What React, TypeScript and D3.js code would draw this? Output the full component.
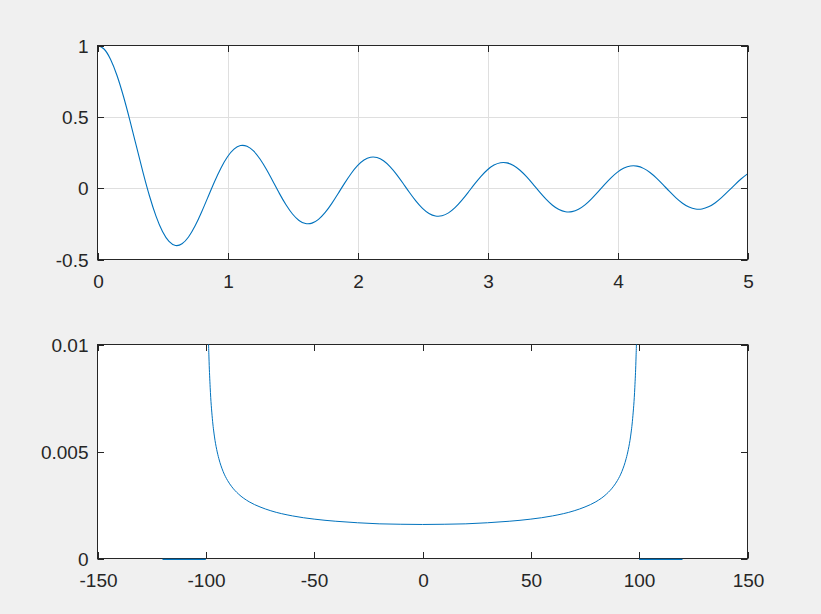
import React from "react";
import * as d3 from "d3";

// ---------- Data ----------
// Top panel: time signal, sampled every 0.05
const timeT = [
  0, 0.05, 0.1, 0.15, 0.2, 0.25, 0.3, 0.35, 0.4, 0.45,
  0.5, 0.55, 0.6, 0.65, 0.7, 0.75, 0.8, 0.85, 0.9, 0.95,
  1.0, 1.05, 1.1, 1.15, 1.2, 1.25, 1.3, 1.35, 1.4, 1.45,
  1.5, 1.55, 1.6, 1.65, 1.7, 1.75, 1.8, 1.85, 1.9, 1.95,
  2.0, 2.05, 2.1, 2.15, 2.2, 2.25, 2.3, 2.35, 2.4, 2.45,
  2.5, 2.55, 2.6, 2.65, 2.7, 2.75, 2.8, 2.85, 2.9, 2.95,
  3.0, 3.05, 3.1, 3.15, 3.2, 3.25, 3.3, 3.35, 3.4, 3.45,
  3.5, 3.55, 3.6, 3.65, 3.7, 3.75, 3.8, 3.85, 3.9, 3.95,
  4.0, 4.05, 4.1, 4.15, 4.2, 4.25, 4.3, 4.35, 4.4, 4.45,
  4.5, 4.55, 4.6, 4.65, 4.7, 4.75, 4.8, 4.85, 4.9, 4.95,
  5.0,
];
const timeY = [
  1.0, 0.9755, 0.9037, 0.79, 0.6425, 0.4722, 0.2906, 0.1109, -0.055, -0.1961,
  -0.3042, -0.3735, -0.4018, -0.3901, -0.3425, -0.2658, -0.1688, -0.0617, 0.0452, 0.142,
  0.2203, 0.2737, 0.2985, 0.2936, 0.2608, 0.2043, 0.1304, 0.0468, -0.0383, -0.1167,
  -0.1812, -0.2262, -0.2479, -0.2451, -0.2187, -0.172, -0.11, -0.0391, 0.0337, 0.1014,
  0.1575, 0.197, 0.2165, 0.2146, 0.192, 0.1513, 0.0969, 0.0342, -0.0305, -0.0908,
  -0.1412, -0.1769, -0.1947, -0.1933, -0.1732, -0.1367, -0.0875, -0.0308, 0.028, 0.083,
  0.1291, 0.1618, 0.1783, 0.1773, 0.159, 0.1256, 0.0805, 0.0282, -0.026, -0.0769,
  -0.1196, -0.1501, -0.1655, -0.1647, -0.1478, -0.1168, -0.0749, -0.0262, 0.0244, 0.072,
  0.112, 0.1406, 0.1551, 0.1544, 0.1387, 0.1097, 0.0703, 0.0246, -0.0231, -0.0679,
  -0.1056, -0.1327, -0.1465, -0.1459, -0.1311, -0.1037, -0.0665, -0.0232, 0.0219, 0.0644,
  0.1003,
];
const topXTicks = [0, 1, 2, 3, 4, 5];
const topYTicks = [-0.5, 0, 0.5, 1];

// Bottom panel: spectrum
const specF = [
  -99.8, -99.5, -99, -98.5, -98, -97, -96, -95, -94, -92, -90, -88, -85, -80,
  -75, -70, -60, -50, -40, -30, -20, -10, 0, 10, 20, 30, 40, 50, 60, 70, 75,
  80, 85, 88, 90, 92, 94, 95, 96, 97, 98, 98.5, 99, 99.5, 99.8,
];
const specY = [
  0.02518, 0.01594, 0.01128, 0.00922, 0.008, 0.00655, 0.00568, 0.0051, 0.00467,
  0.00406, 0.00365, 0.00335, 0.00302, 0.00265, 0.00241, 0.00223, 0.00199,
  0.00184, 0.00174, 0.00167, 0.00162, 0.0016, 0.00159, 0.0016, 0.00162,
  0.00167, 0.00174, 0.00184, 0.00199, 0.00223, 0.00241, 0.00265, 0.00302,
  0.00335, 0.00365, 0.00406, 0.00467, 0.0051, 0.00568, 0.00655, 0.008,
  0.00922, 0.01128, 0.01594, 0.02518,
];
const zeroLeftF = [-120, -100];
const zeroRightF = [100, 120];
const zeroY = [0, 0];
const botXTicks = [-150, -100, -50, 0, 50, 100, 150];
const botYTicks = [0, 0.005, 0.01];
const botYLabels = ["0", "0.005", "0.01"];

// ---------- Styling ----------
const W = 821;
const H = 614;
const BG = "#f0f0f0";
const AX = "#262626";
const GRID = "#dfdfdf";
const LINE = "#0072bd";
const FONT = "'Liberation Sans', Arial, Helvetica, sans-serif";
const FS = 19;
const TICK = 6.5;

const L = 97.5;
const R = 747.5;
const TOP1 = 45.5;
const BOT1 = 259.5;
const TOP2 = 344.5;
const BOT2 = 558.5;

function zip(xs: number[], ys: number[]): [number, number][] {
  return xs.map((x, i) => [x, ys[i]]);
}

export default function App() {
  const x1 = d3.scaleLinear().domain([0, 5]).range([L, R]);
  const y1 = d3.scaleLinear().domain([-0.5, 1]).range([BOT1, TOP1]);
  const x2 = d3.scaleLinear().domain([-150, 150]).range([L, R]);
  const y2 = d3.scaleLinear().domain([0, 0.01]).range([BOT2, TOP2]);

  const line1 = d3
    .line<[number, number]>()
    .x((d) => x1(d[0]))
    .y((d) => y1(d[1]))
    .curve(d3.curveNatural);
  const line2 = d3
    .line<[number, number]>()
    .x((d) => x2(d[0]))
    .y((d) => y2(d[1]))
    .curve(d3.curveMonotoneX);
  const lineFlat = d3
    .line<[number, number]>()
    .x((d) => x2(d[0]))
    .y((d) => y2(d[1]));

  const topPath = line1(zip(timeT, timeY)) || "";
  const specPath = line2(zip(specF, specY)) || "";
  const zl = lineFlat(zip(zeroLeftF, zeroY)) || "";
  const zr = lineFlat(zip(zeroRightF, zeroY)) || "";

  const fmt = (v: number) => String(v);

  return (
    <svg
      width={W}
      height={H}
      style={{ display: "block", position: "absolute", left: 0, top: 0 }}
      fontFamily={FONT}
    >
      <rect x={0} y={0} width={W} height={H} fill={BG} />
      <defs>
        <clipPath id="clip1">
          <rect x={L} y={TOP1 - 0.5} width={R - L} height={BOT1 - TOP1 + 1} />
        </clipPath>
        <clipPath id="clip2">
          <rect x={L - 1} y={TOP2} width={R - L + 2} height={BOT2 - TOP2 + 1.5} />
        </clipPath>
      </defs>

      {/* ---------- Top axes ---------- */}
      <rect x={L} y={TOP1} width={R - L} height={BOT1 - TOP1} fill="#ffffff" />
      {topXTicks.slice(1, -1).map((t) => (
        <line key={"gx" + t} x1={Math.round(x1(t)) + 0.5} x2={Math.round(x1(t)) + 0.5} y1={TOP1} y2={BOT1} stroke={GRID} strokeWidth={1} />
      ))}
      {topYTicks.slice(1, -1).map((t) => (
        <line key={"gy" + t} x1={L} x2={R} y1={Math.round(y1(t)) + 0.5} y2={Math.round(y1(t)) + 0.5} stroke={GRID} strokeWidth={1} />
      ))}
      <g clipPath="url(#clip1)">
        <path d={topPath} fill="none" stroke={LINE} strokeWidth={1.1} />
      </g>
      <rect x={L} y={TOP1} width={R - L} height={BOT1 - TOP1} fill="none" stroke={AX} strokeWidth={1} />
      {topXTicks.map((t) => {
        const px = Math.round(x1(t)) + 0.5;
        return (
          <g key={"tx" + t}>
            <line x1={px} x2={px} y1={BOT1} y2={BOT1 - TICK} stroke={AX} />
            <line x1={px} x2={px} y1={TOP1} y2={TOP1 + TICK} stroke={AX} />
            <text x={px} y={BOT1 + 28.5} textAnchor="middle" fontSize={FS} fill={AX}>
              {fmt(t)}
            </text>
          </g>
        );
      })}
      {topYTicks.map((t) => {
        const py = Math.round(y1(t)) + 0.5;
        return (
          <g key={"ty" + t}>
            <line x1={L} x2={L + TICK} y1={py} y2={py} stroke={AX} />
            <line x1={R} x2={R - TICK} y1={py} y2={py} stroke={AX} />
            <text x={L - 9} y={py} dy="0.35em" textAnchor="end" fontSize={FS} fill={AX}>
              {fmt(t)}
            </text>
          </g>
        );
      })}

      {/* ---------- Bottom axes ---------- */}
      <rect x={L} y={TOP2} width={R - L} height={BOT2 - TOP2} fill="#ffffff" />
      <rect x={L} y={TOP2} width={R - L} height={BOT2 - TOP2} fill="none" stroke={AX} strokeWidth={1} />
      {botXTicks.map((t) => {
        const px = Math.round(x2(t)) + 0.5;
        return (
          <g key={"bx" + t}>
            <line x1={px} x2={px} y1={BOT2} y2={BOT2 - TICK} stroke={AX} />
            <line x1={px} x2={px} y1={TOP2} y2={TOP2 + TICK} stroke={AX} />
            <text x={px} y={BOT2 + 28.5} textAnchor="middle" fontSize={FS} fill={AX}>
              {fmt(t)}
            </text>
          </g>
        );
      })}
      {botYTicks.map((t, i) => {
        const py = Math.round(y2(t)) + 0.5;
        return (
          <g key={"by" + t}>
            <line x1={L} x2={L + TICK} y1={py} y2={py} stroke={AX} />
            <line x1={R} x2={R - TICK} y1={py} y2={py} stroke={AX} />
            <text x={L - 9} y={py} dy="0.35em" textAnchor="end" fontSize={FS} fill={AX}>
              {botYLabels[i]}
            </text>
          </g>
        );
      })}
      <g clipPath="url(#clip2)">
        <path d={specPath} fill="none" stroke={LINE} strokeWidth={1} />
        <path d={zl} fill="none" stroke={LINE} strokeWidth={1.2} transform="translate(0,0.8)" />
        <path d={zr} fill="none" stroke={LINE} strokeWidth={1.2} transform="translate(0,0.8)" />
      </g>
    </svg>
  );
}
